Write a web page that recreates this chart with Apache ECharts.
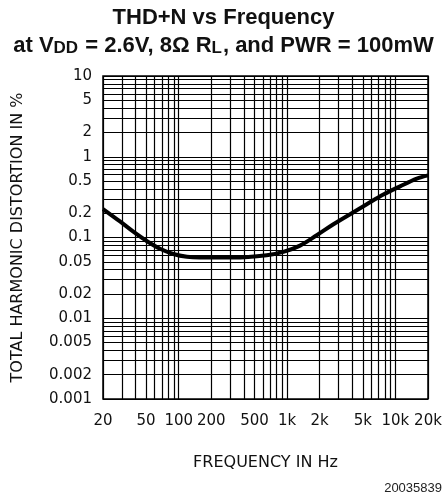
<!DOCTYPE html>
<html><head><meta charset="utf-8">
<script src="https://cdn.jsdelivr.net/npm/echarts@6/dist/echarts.min.js"></script>
<style>html,body{margin:0;padding:0;background:#fff}#c{width:447px;height:499px}</style>
</head><body><div id="c"></div>
<script>
// Measured curve (frequency in Hz, THD+N in %)
const freqHz = [20, 28.7, 38.1, 50.6, 67.2, 89.2, 119, 157, 319, 649, 924, 1318, 1880, 2679, 3820, 5445, 7748, 11045, 15760, 20000];
const thdPct = [0.225, 0.158, 0.118, 0.0905, 0.0725, 0.0625, 0.0577, 0.0566, 0.0566, 0.0604, 0.0664, 0.0793, 0.1067, 0.146, 0.194, 0.258, 0.340, 0.430, 0.535, 0.588];

// Axis labels
const xLabelValues = [20, 50, 100, 200, 500, 1000, 2000, 5000, 10000, 20000];
const yLabelValues = [0.001, 0.002, 0.005, 0.01, 0.02, 0.05, 0.1, 0.2, 0.5, 1, 2, 5, 10];

// Grid lines (log grid)
const xGridValues = [20, 30, 40, 50, 60, 70, 80, 90, 100, 200, 300, 400, 500, 600, 700, 800, 900,
  1000, 2000, 3000, 4000, 5000, 6000, 7000, 8000, 9000, 10000, 20000];
const yGridValues = [0.001, 0.002, 0.003, 0.004, 0.005, 0.006, 0.007, 0.008, 0.009,
  0.01, 0.02, 0.03, 0.04, 0.05, 0.06, 0.07, 0.08, 0.09,
  0.1, 0.2, 0.3, 0.4, 0.5, 0.6, 0.7, 0.8, 0.9,
  1, 2, 3, 4, 5, 6, 7, 8, 9, 10];

const seriesData = freqHz.map((f, i) => [f, thdPct[i]]);
const clean = v => parseFloat(Number(v).toPrecision(6));
const labFont = 'DejaVu Sans';

const chart = echarts.init(document.getElementById('c'), null, {renderer: 'canvas'});
chart.setOption({
  animation: false,
  backgroundColor: '#fff',
  title: [
    {text: 'THD+N vs Frequency', left: 'center', top: 5, padding: 0,
     textStyle: {fontFamily: 'Liberation Sans', fontWeight: 'bold', fontSize: 22, lineHeight: 26, color: '#111'}},
    {text: '{a|at V}{s|DD}{a| = 2.6V, 8Ω R}{s|L}{a|, and PWR = 100mW}', left: 'center', top: 27, padding: 0,
     textStyle: {rich: {
       a: {fontFamily: 'Liberation Sans', fontWeight: 'bold', fontSize: 22, lineHeight: 30, color: '#111', verticalAlign: 'bottom'},
       s: {fontFamily: 'Liberation Sans', fontWeight: 'bold', fontSize: 17, lineHeight: 15, padding: [15, 1, 0, 0], color: '#111', verticalAlign: 'bottom'}
     }}}
  ],
  grid: {left: 103, right: 19, top: 76, bottom: 100, containLabel: false, outerBoundsMode: 'none',
         show: true, borderColor: '#000', borderWidth: 1.5},
  xAxis: {
    type: 'log', logBase: 10, min: 20, max: 20000,
    name: 'FREQUENCY IN Hz', nameLocation: 'middle', nameGap: 56,
    nameTextStyle: {fontFamily: labFont, fontSize: 16, color: '#111'},
    axisLine: {show: false},
    axisTick: {show: false, customValues: xGridValues},
    axisLabel: {customValues: xLabelValues, margin: 15, fontFamily: labFont, fontSize: 15, color: '#111',
      formatter: v => { v = clean(v); return v >= 1000 ? (v / 1000) + 'k' : String(v); }},
    splitLine: {show: true, lineStyle: {color: '#000', width: 1.2}},
    minorSplitLine: {show: false}
  },
  yAxis: {
    type: 'log', logBase: 10, min: 0.001, max: 10,
    name: 'TOTAL HARMONIC DISTORTION IN %', nameLocation: 'middle', nameGap: 77, nameRotate: 90,
    nameTextStyle: {fontFamily: labFont, fontSize: 16, color: '#111'},
    axisLine: {show: false},
    axisTick: {show: false, customValues: yGridValues},
    axisLabel: {customValues: yLabelValues, margin: 11, fontFamily: labFont, fontSize: 15, color: '#111',
      formatter: v => String(clean(v))},
    splitLine: {show: true, lineStyle: {color: '#000', width: 1.2}}
  },
  graphic: [
    {type: 'text', right: 5, top: 482, style: {text: '20035839', font: '13px "Liberation Sans"', fill: '#222'}}
  ],
  series: [{
    type: 'line', data: seriesData, smooth: 0.35, showSymbol: false, symbol: 'none',
    lineStyle: {color: '#000', width: 4}, z: 5
  }]
});
</script></body></html>
